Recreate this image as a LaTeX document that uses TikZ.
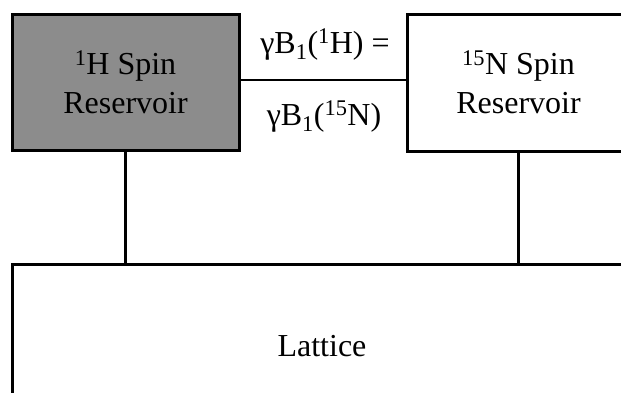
\documentclass[tikz,border=0pt]{standalone}
\usepackage{fontspec}
\setmainfont{Liberation Serif}
\begin{document}
\begin{tikzpicture}[x=1pt,y=-1pt,
  box/.style={draw=black,line width=3pt,rectangle,inner sep=0pt,align=center,
    font=\fontsize{32}{39}\selectfont},
  link/.style={draw=black,line width=2.4pt},
  lbl/.style={inner sep=0pt,font=\fontsize{32}{37}\selectfont}]
\useasboundingbox (0,0) rectangle (621,392);
\node[box,fill=black!45,minimum width=227pt,minimum height=136pt] (hbox) at (125.5,82)
  {\textsuperscript{1}H Spin\\Reservoir};
\node[box,fill=white,minimum width=223pt,minimum height=137pt] (nbox) at (518.5,82.5)
  {\textsuperscript{15}N Spin\\Reservoir};
\node[box,fill=white,minimum width=620pt,minimum height=164pt] (lat) at (322,346)
  {Lattice};
\draw[link] ([yshift=2pt]hbox.east) -- ([yshift=2pt]hbox.east -| nbox.west);
\draw[link] (hbox.south) -- (hbox.south |- lat.north);
\draw[link] (nbox.south) -- (nbox.south |- lat.north);
\node[lbl,anchor=base] (top) at (325,53) {γB\textsubscript{1}(\textsuperscript{1}H) =};
\node[lbl,anchor=base] (bot) at (324,125) {γB\textsubscript{1}(\textsuperscript{15}N)};
\end{tikzpicture}
\end{document}
